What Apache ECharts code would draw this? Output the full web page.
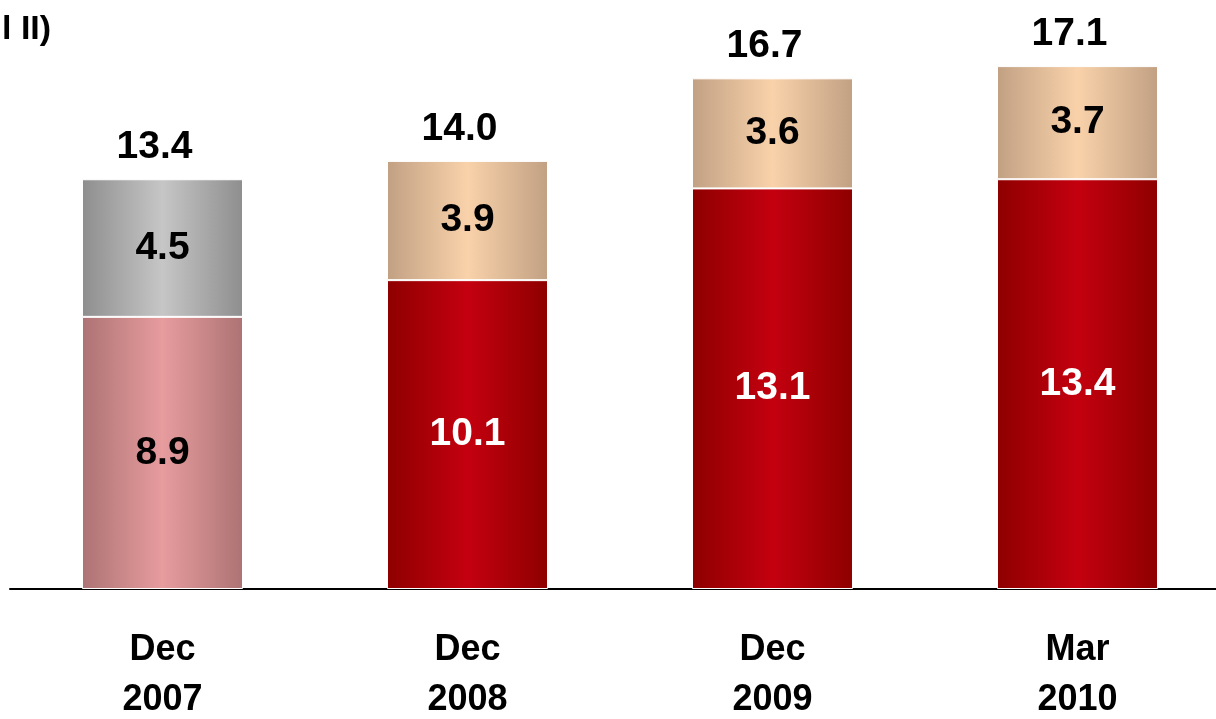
<!DOCTYPE html>
<html>
<head>
<meta charset="utf-8">
<style>
  html, body { margin: 0; padding: 0; background: #ffffff; }
  #chart { width: 1216px; height: 719px; }
</style>
<script src="https://cdn.jsdelivr.net/npm/echarts@6/dist/echarts.min.js"></script>
</head>
<body>
<div id="chart"></div>
<script>
// Period labels along the x axis
const categories = ['Dec\n2007', 'Dec\n2008', 'Dec\n2009', 'Mar\n2010'];
// Lower segment of each bar
const baseValues = [8.9, 10.1, 13.1, 13.4];
// Upper segment of each bar
const topValues = [4.5, 3.9, 3.6, 3.7];
// Bar totals shown above each stack
const totals = [13.4, 14.0, 16.7, 17.1];

// Horizontal shading: darker at the edges, lighter in the middle
function shade(edge, mid) {
  return new echarts.graphic.LinearGradient(0, 0, 1, 0, [
    { offset: 0, color: edge },
    { offset: 0.5, color: mid },
    { offset: 1, color: edge }
  ]);
}

const redFill = shade('#8e0000', '#c4000f');
const pinkFill = shade('#ad7374', '#e79c9e');
const tanFill = shade('#c1a083', '#f9d2aa');
const greyFill = shade('#8e8e8e', '#c6c6c6');

const FONT = '"Liberation Sans", Arial, sans-serif';

const chart = echarts.init(document.getElementById('chart'));
chart.setOption({
  animation: false,
  backgroundColor: '#ffffff',
  grid: {
    left: 10,
    width: 1220,
    top: 8,
    height: 581,
    containLabel: false,
    outerBoundsMode: 'none'
  },
  xAxis: {
    type: 'category',
    data: categories,
    axisLine: { show: true, lineStyle: { color: '#000000', width: 2 } },
    axisTick: { show: false },
    axisLabel: {
      margin: 36,
      color: '#000000',
      fontFamily: FONT,
      fontWeight: 'bold',
      fontSize: 36,
      lineHeight: 50
    }
  },
  yAxis: {
    type: 'value',
    min: 0,
    max: 19,
    show: false,
    splitLine: { show: false }
  },
  series: [
    {
      name: 'base',
      type: 'bar',
      stack: 'total',
      barWidth: 161,
      data: baseValues.map((v, i) => ({
        value: v,
        itemStyle: { color: i === 0 ? pinkFill : redFill },
        label: { color: i === 0 ? '#000000' : '#ffffff' }
      })),
      itemStyle: { borderColor: '#ffffff', borderWidth: 1 },
      label: {
        show: true,
        position: 'inside',
        fontFamily: FONT,
        fontWeight: 'bold',
        fontSize: 39,
        formatter: p => p.value.toFixed(1)
      }
    },
    {
      name: 'upper',
      type: 'bar',
      stack: 'total',
      barWidth: 161,
      data: topValues.map((v, i) => ({
        value: v,
        itemStyle: { color: i === 0 ? greyFill : tanFill }
      })),
      itemStyle: { borderColor: '#ffffff', borderWidth: 1 },
      label: {
        show: true,
        position: 'inside',
        color: '#000000',
        fontFamily: FONT,
        fontWeight: 'bold',
        fontSize: 39,
        formatter: p => p.value.toFixed(1)
      }
    },
    {
      name: 'total',
      type: 'bar',
      barWidth: 161,
      barGap: '-100%',
      z: 1,
      data: totals,
      itemStyle: { color: 'rgba(0,0,0,0)' },
      label: {
        show: true,
        position: 'top',
        distance: 12,
        offset: [-8, 0],
        color: '#000000',
        fontFamily: FONT,
        fontWeight: 'bold',
        fontSize: 39,
        lineHeight: 40,
        formatter: p => p.value.toFixed(1)
      }
    }
  ],
  graphic: [
    {
      type: 'text',
      left: 2,
      top: 13,
      style: {
        text: 'l II)',
        fill: '#000000',
        font: 'bold 34px "Liberation Sans", Arial, sans-serif'
      }
    }
  ]
});
</script>
</body>
</html>
